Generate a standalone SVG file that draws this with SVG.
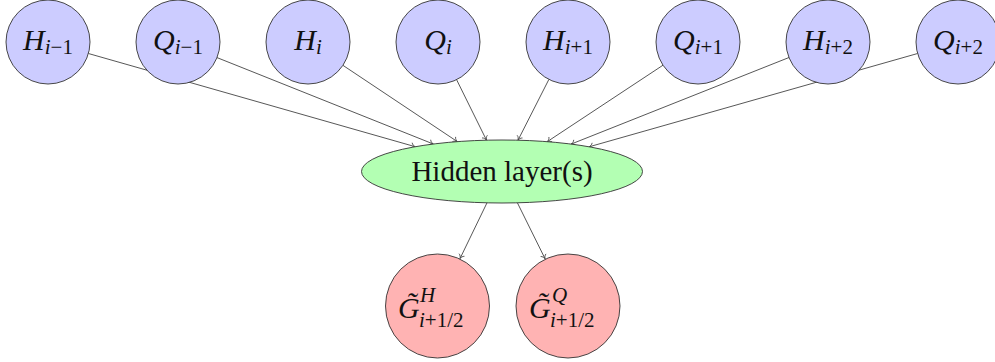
<svg xmlns="http://www.w3.org/2000/svg" width="995" height="362" viewBox="0 0 995 362">
<style>
.in{fill:#ccccff;stroke:#333;stroke-width:0.9}
.hid{fill:#b3ffb3;stroke:#333;stroke-width:0.9}
.out{fill:#ffb3b3;stroke:#333;stroke-width:0.9}
.lbl{font-family:"Liberation Serif","DejaVu Serif",serif;font-size:30px;fill:#111}
.hl{font-size:29px}
.m{font-style:italic}
.sub{font-size:21px}
.e{fill:none;stroke:#444;stroke-width:0.9;marker-end:url(#arr)}
</style>
<defs>
<marker id="arr" markerUnits="userSpaceOnUse" markerWidth="10" markerHeight="10" refX="0" refY="0" viewBox="-6 -5 8 10" orient="auto" overflow="visible">
<path d="M-4,-3 C-3.4,-1.2 -1.2,-0.3 0,0 C-1.2,0.3 -3.4,1.2 -4,3" fill="none" stroke="#444" stroke-width="0.8"/>
</marker>
</defs>
<g id="edges">
<line class="e" x1="88.4" y1="53.5" x2="415.2" y2="146.7"/>
<line class="e" x1="217.0" y1="57.6" x2="433.3" y2="144.0"/>
<line class="e" x1="342.9" y1="65.3" x2="457.3" y2="141.6"/>
<line class="e" x1="456.6" y1="79.7" x2="486.5" y2="140.2"/>
<line class="e" x1="548.9" y1="79.4" x2="518.0" y2="140.2"/>
<line class="e" x1="663.0" y1="65.2" x2="547.2" y2="141.7"/>
<line class="e" x1="789.0" y1="57.5" x2="571.1" y2="144.1"/>
<line class="e" x1="917.6" y1="53.5" x2="589.1" y2="146.8"/>
<line class="e" x1="487.0" y1="202.8" x2="460.0" y2="258.6"/>
<line class="e" x1="517.4" y1="202.8" x2="545.1" y2="258.8"/>
</g>
<g id="H_im1"><circle class="in" cx="48" cy="42" r="42"/><text class="lbl" x="48" y="50" text-anchor="middle"><tspan class="m">H</tspan><tspan class="sub" dy="4"><tspan class="m">i</tspan>−1</tspan></text></g>
<g id="Q_im1"><circle class="in" cx="178" cy="42" r="42"/><text class="lbl" x="178" y="50" text-anchor="middle"><tspan class="m">Q</tspan><tspan class="sub" dy="4"><tspan class="m">i</tspan>−1</tspan></text></g>
<g id="H_i"><circle class="in" cx="308" cy="42" r="42"/><text class="lbl" x="308" y="50" text-anchor="middle"><tspan class="m">H</tspan><tspan class="sub m" dy="4">i</tspan></text></g>
<g id="Q_i"><circle class="in" cx="438" cy="42" r="42"/><text class="lbl" x="438" y="50" text-anchor="middle"><tspan class="m">Q</tspan><tspan class="sub m" dy="4">i</tspan></text></g>
<g id="H_ip1"><circle class="in" cx="568" cy="42" r="42"/><text class="lbl" x="568" y="50" text-anchor="middle"><tspan class="m">H</tspan><tspan class="sub" dy="4"><tspan class="m">i</tspan>+1</tspan></text></g>
<g id="Q_ip1"><circle class="in" cx="698" cy="42" r="42"/><text class="lbl" x="698" y="50" text-anchor="middle"><tspan class="m">Q</tspan><tspan class="sub" dy="4"><tspan class="m">i</tspan>+1</tspan></text></g>
<g id="H_ip2"><circle class="in" cx="828" cy="42" r="42"/><text class="lbl" x="828" y="50" text-anchor="middle"><tspan class="m">H</tspan><tspan class="sub" dy="4"><tspan class="m">i</tspan>+2</tspan></text></g>
<g id="Q_ip2"><circle class="in" cx="958" cy="42" r="42"/><text class="lbl" x="958" y="50" text-anchor="middle"><tspan class="m">Q</tspan><tspan class="sub" dy="4"><tspan class="m">i</tspan>+2</tspan></text></g>
<g id="hidden"><ellipse class="hid" cx="502" cy="171.5" rx="140.5" ry="31.5"/><text class="lbl hl" x="502" y="181" text-anchor="middle">Hidden layer(s)</text></g>
<g id="G_H"><circle class="out" cx="437.5" cy="306" r="52"/><text class="lbl"><tspan class="m" x="398" y="318">G̃</tspan><tspan class="sub m" x="420" y="302">H</tspan><tspan class="sub" x="419" y="327"><tspan class="m">i</tspan>+1/2</tspan></text></g>
<g id="G_Q"><circle class="out" cx="568" cy="306" r="52"/><text class="lbl"><tspan class="m" x="529" y="318">G̃</tspan><tspan class="sub m" x="552" y="302">Q</tspan><tspan class="sub" x="550" y="327"><tspan class="m">i</tspan>+1/2</tspan></text></g>
</svg>
